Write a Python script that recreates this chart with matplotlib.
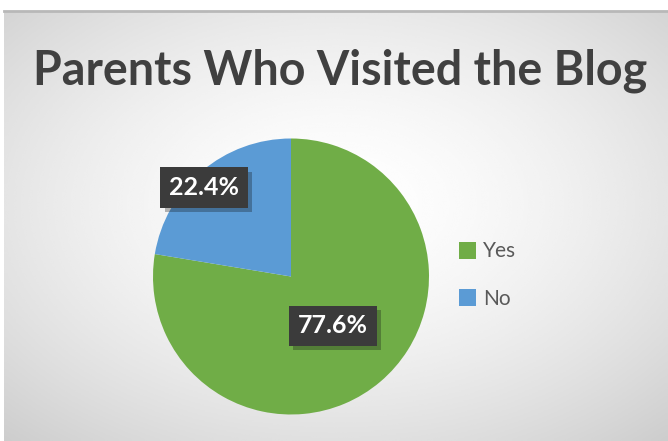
import numpy as np
import matplotlib
matplotlib.use("Agg")
import matplotlib.pyplot as plt
import matplotlib.patheffects as pe

title = "Parents Who Visited the Blog"
categories = ["Yes", "No"]
values = [77.6, 22.4]
colors = ["#70AD47", "#5B9BD5"]

W, H = 668, 441
fig = plt.figure(figsize=(W / 100, H / 100), dpi=100, facecolor="white")

# background panel with radial gradient
bg = fig.add_axes([4 / W, 0, (W - 4) / W, (H - 11) / H])
bg.set_axis_off()
yy, xx = np.mgrid[0:1:300j, 0:1:450j]
r = np.sqrt(((xx - 0.5) / 0.75) ** 2 + ((yy - 0.55) / 0.75) ** 2)
shade = 1.0 - 0.20 * np.clip(r, 0, 1) ** 1.6
bg.imshow(shade, cmap="gray", vmin=0, vmax=1, extent=[0, 1, 0, 1],
          aspect="auto", origin="lower", interpolation="bicubic")
bg.set_xlim(0, 1)
bg.set_ylim(0, 1)
fig.add_artist(plt.Line2D([4 / W, 1], [(H - 11) / H, (H - 11) / H],
                          color="#b8b8b8", lw=2))

fig.text(340 / W, 1 - 71 / H, title, ha="center", va="center",
         fontsize=33.6, fontweight="bold", family="Lato", color="#404040")

# pie
cx, cy, rad = 291, 276.5, 138
ax = fig.add_axes([(cx - rad) / W, (H - cy - rad) / H, 2 * rad / W, 2 * rad / H])
wedges, _ = ax.pie(values, colors=colors, startangle=90, counterclock=False,
                   radius=1.0, wedgeprops=dict(linewidth=0))
ax.set_xlim(-1, 1)
ax.set_ylim(-1, 1)
ax.set_aspect("equal")

dists = [0.47, 0.90]
offsets = [0, 4]
for w, v, d, o in zip(wedges, values, dists, offsets):
    ang = np.deg2rad((w.theta1 + w.theta2) / 2 + o)
    ax.text(d * np.cos(ang), d * np.sin(ang), f"{v:.1f}%", ha="center", va="center",
            fontsize=18, fontweight="bold", family="Lato", color="white",
            bbox=dict(boxstyle="square,pad=0.35", facecolor="#3b3b3b",
                      edgecolor="none",
                      path_effects=[pe.SimplePatchShadow(offset=(3, -3), alpha=0.3),
                                    pe.Normal()]))

# legend
leg = fig.legend(wedges, categories, loc="center left",
                 bbox_to_anchor=(440 / W, 1 - 275 / H), frameon=False,
                 prop=dict(family="Lato", size=15), labelcolor="#595959",
                 handlelength=0.85, handleheight=0.85, handletextpad=0.3,
                 labelspacing=1.3)

fig.savefig("out.png", dpi=100, facecolor="white")
